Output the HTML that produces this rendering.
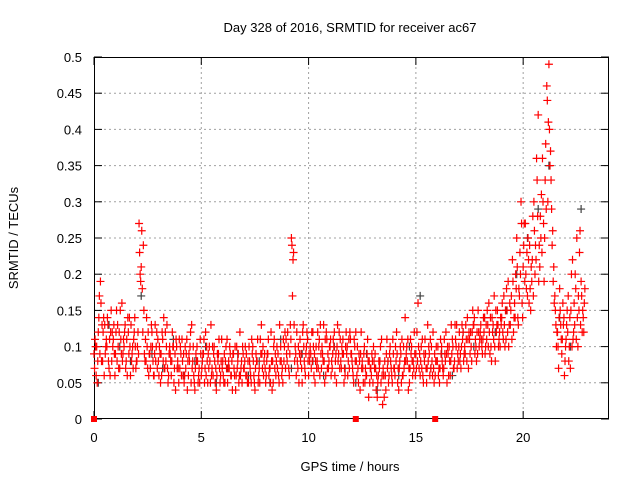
<!DOCTYPE html>
<html><head><meta charset="utf-8"><style>
html,body{margin:0;padding:0;background:#fff;}
svg{display:block;font-family:"Liberation Sans",sans-serif;}
</style></head><body>
<svg id="chart" width="640" height="480" viewBox="0 0 640 480">
<rect width="640" height="480" fill="#fff"/>
<text x="350" y="32" text-anchor="middle" font-size="13">Day 328 of 2016, SRMTID for receiver ac67</text>
<g id="grid"></g>
<g id="axes"></g>
<g id="gray"></g>
<g id="red"></g>
<text x="350" y="471" text-anchor="middle" font-size="13">GPS time / hours</text>
<text transform="translate(18,238) rotate(-90)" text-anchor="middle" font-size="13">SRMTID / TECUs</text>
</svg>
<script>
const xTicks=[0,5,10,15,20];
const yTicks=[0,0.05,0.1,0.15,0.2,0.25,0.3,0.35,0.4,0.45,0.5];
const yTickLabels=["0","0.05","0.1","0.15","0.2","0.25","0.3","0.35","0.4","0.45","0.5"];
const redStart=0, redStep=0.1;
const redA=[0.09,0.06,0.12,0.19,0.08,0.13,0.10,0.07,0.15,0.11,
0.09,0.13,0.07,0.16,0.10,0.08,0.12,0.06,0.10,0.14,
0.08,0.27,0.21,0.24,0.11,0.07,0.09,0.12,0.06,0.10,
0.08,0.05,0.11,0.07,0.13,0.09,0.06,0.10,0.04,0.08,
0.07,0.11,0.05,0.09,0.06,0.12,0.08,0.04,0.10,0.07,
0.06,0.09,0.12,0.05,0.08,0.07,0.10,0.04,0.09,0.06,
0.08,0.05,0.11,0.07,0.06,0.09,0.04,0.08,0.12,0.05,
0.07,0.09,0.05,0.06,0.10,0.04,0.08,0.07,0.13,0.06,
0.05,0.09,0.07,0.04,0.11,0.08,0.06,0.10,0.05,0.12,
0.08,0.06,0.25,0.23,0.09,0.07,0.11,0.05,0.08,0.10,
0.06,0.09,0.12,0.05,0.08,0.11,0.07,0.13,0.06,0.09,
0.10,0.07,0.12,0.05,0.09,0.08,0.11,0.06,0.10,0.07,
0.09,0.05,0.12,0.07,0.04,0.08,0.10,0.06,0.03,0.07,
0.05,0.09,0.03,0.07,0.11,0.06,0.04,0.08,0.10,0.05,
0.07,0.12,0.04,0.09,0.06,0.14,0.08,0.05,0.10,0.07,
0.09,0.16,0.06,0.11,0.08,0.05,0.10,0.07,0.12,0.06,
0.08,0.05,0.10,0.07,0.12,0.09,0.06,0.11,0.08,0.13,
0.10,0.07,0.12,0.09,0.14,0.11,0.08,0.13,0.10,0.15,
0.12,0.09,0.14,0.11,0.16,0.10,0.13,0.08,0.15,0.12,
0.14,0.17,0.11,0.19,0.13,0.22,0.16,0.25,0.18,0.30,
0.21,0.27,0.17,0.24,0.19,0.30,0.22,0.42,0.28,0.36,
0.25,0.46,0.49,0.33,0.19,0.15,0.12,0.18,0.09,0.14,
0.11,0.17,0.07,0.22,0.13,0.25,0.15,0.19,0.14];
const redB=[0.11,0.05,0.17,0.08,0.14,0.10,0.13,0.06,0.12,0.09,
0.15,0.07,0.11,0.09,0.13,0.06,0.14,0.08,0.11,0.07,
0.12,0.20,0.18,0.09,0.14,0.06,0.10,0.08,0.13,0.07,
0.10,0.06,0.14,0.08,0.05,0.09,0.12,0.07,0.10,0.05,
0.09,0.06,0.10,0.04,0.08,0.13,0.06,0.09,0.05,0.11,
0.08,0.05,0.10,0.07,0.13,0.06,0.05,0.09,0.07,0.11,
0.05,0.10,0.07,0.09,0.04,0.06,0.10,0.05,0.07,0.09,
0.10,0.05,0.08,0.11,0.06,0.09,0.05,0.11,0.07,0.09,
0.08,0.06,0.12,0.05,0.09,0.07,0.13,0.06,0.08,0.11,
0.10,0.13,0.17,0.08,0.12,0.05,0.09,0.13,0.06,0.11,
0.08,0.12,0.06,0.10,0.07,0.13,0.09,0.05,0.11,0.08,
0.06,0.11,0.08,0.13,0.07,0.10,0.05,0.12,0.08,0.11,
0.07,0.10,0.06,0.09,0.12,0.05,0.07,0.11,0.05,0.09,
0.08,0.04,0.06,0.10,0.02,0.08,0.11,0.06,0.07,0.09,
0.10,0.05,0.08,0.11,0.07,0.09,0.04,0.11,0.06,0.09,
0.12,0.07,0.10,0.05,0.09,0.13,0.06,0.08,0.05,0.10,
0.06,0.11,0.07,0.09,0.05,0.10,0.13,0.07,0.11,0.09,
0.08,0.13,0.09,0.11,0.07,0.12,0.15,0.09,0.12,0.10,
0.11,0.14,0.10,0.13,0.09,0.14,0.17,0.12,0.10,0.14,
0.12,0.10,0.15,0.13,0.17,0.12,0.20,0.14,0.23,0.16,
0.27,0.18,0.22,0.15,0.28,0.20,0.33,0.24,0.31,0.27,
0.38,0.30,0.35,0.24,0.16,0.10,0.07,0.13,0.16,0.08,
0.15,0.10,0.20,0.12,0.18,0.10,0.26,0.12,0.16];
const redC=[0.07,0.10,0.14,0.16,0.12,0.09,0.14,0.11,0.08,0.13,
0.12,0.10,0.15,0.08,0.12,0.11,0.09,0.13,0.07,0.10,
0.10,0.23,0.26,0.15,0.08,0.12,0.07,0.10,0.09,0.12,
0.06,0.09,0.08,0.12,0.07,0.10,0.08,0.05,0.11,0.07,
0.10,0.08,0.06,0.11,0.09,0.05,0.10,0.07,0.08,0.05,
0.07,0.11,0.06,0.09,0.05,0.10,0.08,0.06,0.11,0.08,
0.06,0.08,0.05,0.10,0.08,0.07,0.06,0.09,0.06,0.10,
0.08,0.06,0.10,0.05,0.08,0.07,0.11,0.05,0.09,0.08,
0.06,0.11,0.05,0.08,0.07,0.10,0.05,0.08,0.11,0.07,
0.12,0.09,0.24,0.13,0.06,0.10,0.08,0.12,0.07,0.12,
0.09,0.07,0.10,0.08,0.12,0.06,0.10,0.08,0.12,0.07,
0.11,0.09,0.06,0.10,0.12,0.07,0.09,0.10,0.06,0.12,
0.08,0.11,0.08,0.05,0.09,0.07,0.05,0.09,0.08,0.06,
0.10,0.07,0.05,0.08,0.06,0.03,0.09,0.05,0.08,0.11,
0.06,0.09,0.07,0.05,0.10,0.08,0.11,0.07,0.08,0.12,
0.07,0.10,0.08,0.06,0.11,0.07,0.09,0.10,0.07,0.08,
0.10,0.07,0.08,0.11,0.09,0.06,0.08,0.10,0.13,0.07,
0.12,0.10,0.08,0.13,0.11,0.09,0.12,0.14,0.08,0.12,
0.13,0.11,0.09,0.15,0.12,0.08,0.11,0.15,0.13,0.10,
0.16,0.13,0.18,0.10,0.15,0.19,0.14,0.21,0.17,0.27,
0.24,0.20,0.25,0.18,0.22,0.26,0.36,0.19,0.25,0.30,
0.33,0.44,0.40,0.29,0.21,0.13,0.10,0.15,0.11,0.06,
0.13,0.08,0.15,0.11,0.20,0.14,0.23,0.17,0.12];
const redD=[0.10,0.08,0.09,0.13,0.06,0.11,0.08,0.12,0.10,0.06,
0.08,0.12,0.09,0.11,0.07,0.14,0.10,0.09,0.12,0.08,
0.09,0.19,0.12,0.08,0.10,0.09,0.13,0.06,0.08,0.11,
0.09,0.12,0.07,0.10,0.06,0.08,0.10,0.09,0.07,0.11,
0.06,0.09,0.07,0.08,0.10,0.07,0.05,0.08,0.06,0.09,
0.09,0.07,0.08,0.10,0.06,0.09,0.07,0.08,0.05,0.07,
0.09,0.07,0.08,0.06,0.09,0.10,0.07,0.06,0.08,0.07,
0.06,0.08,0.07,0.09,0.05,0.08,0.06,0.09,0.10,0.07,
0.09,0.07,0.08,0.10,0.06,0.09,0.08,0.07,0.10,0.09,
0.07,0.11,0.22,0.10,0.08,0.09,0.07,0.10,0.09,0.08,
0.10,0.08,0.09,0.07,0.10,0.09,0.08,0.11,0.07,0.10,
0.08,0.10,0.09,0.08,0.11,0.09,0.07,0.09,0.11,0.09,
0.06,0.08,0.10,0.08,0.07,0.09,0.06,0.08,0.07,0.08,
0.07,0.06,0.08,0.05,0.07,0.06,0.07,0.09,0.06,0.07,
0.08,0.07,0.10,0.06,0.08,0.10,0.07,0.09,0.08,0.06,
0.08,0.09,0.07,0.09,0.07,0.08,0.11,0.06,0.09,0.08,
0.07,0.09,0.06,0.08,0.10,0.08,0.09,0.07,0.10,0.08,
0.09,0.11,0.10,0.08,0.12,0.10,0.13,0.11,0.09,0.11,
0.10,0.12,0.13,0.10,0.14,0.12,0.10,0.13,0.11,0.13,
0.11,0.15,0.12,0.16,0.11,0.14,0.18,0.13,0.20,0.14,
0.19,0.23,0.16,0.21,0.17,0.24,0.28,0.21,0.23,0.19,
0.29,0.41,0.37,0.26,0.17,0.12,0.14,0.11,0.13,0.10,
0.12,0.14,0.10,0.16,0.11,0.17,0.13,0.15,0.18];
const grayStart=0, grayStep=0.5;
const grayVals=[0.05,0.13,0.10,0.08,0.17,0.09,0.07,0.11,0.06,0.08,
0.10,0.05,0.07,0.09,0.06,0.08,0.05,0.11,0.07,0.09,
0.08,0.06,0.10,0.07,0.05,0.09,0.04,0.08,0.06,0.10,
0.17,0.07,0.09,0.06,0.12,0.10,0.14,0.12,0.15,0.20,
0.25,0.29,0.35,0.14,0.10,0.29];
const zeroHours=[0,12.2,15.9];

const NS="http://www.w3.org/2000/svg";
const L=94,R=609,T=57,B=419,xMax=24,yMax=0.5;
const xs=h=>L+(R-L)*h/xMax;
const ys=v=>B-(B-T)*v/yMax;
function mk(tag,attrs,parent){const e=document.createElementNS(NS,tag);for(const k in attrs)e.setAttribute(k,attrs[k]);parent.appendChild(e);return e;}
const grid=document.getElementById('grid'),axes=document.getElementById('axes');
yTicks.forEach((v,i)=>{
  const y=ys(v);
  if(i>0&&i<yTicks.length-1){const g=mk('line',{x1:L,x2:R,y1:y,y2:y,stroke:'#a0a0a0','stroke-width':1,'stroke-dasharray':'2,3'},grid);
  
  }
  mk('line',{x1:L,x2:L+8,y1:y,y2:y,stroke:'#000'},axes);
  mk('line',{x1:R-8,x2:R,y1:y,y2:y,stroke:'#000'},axes);
  const t=mk('text',{x:L-12,y:y+5,'text-anchor':'end','font-size':13},axes);
  t.textContent=yTickLabels[i];
  
  
});
xTicks.forEach(h=>{
  const x=xs(h);
  if(h>0){const g=mk('line',{x1:x,x2:x,y1:T,y2:B,stroke:'#a0a0a0','stroke-width':1,'stroke-dasharray':'2,3'},grid);
  
  }
  mk('line',{x1:x,x2:x,y1:B,y2:B-8,stroke:'#000'},axes);
  mk('line',{x1:x,x2:x,y1:T,y2:T+8,stroke:'#000'},axes);
  const t=mk('text',{x:x,y:B+23,'text-anchor':'middle','font-size':13},axes);
  t.textContent=String(h);
  
  
});
const fr=mk('rect',{x:L+0.5,y:T+0.5,width:R-L-1,height:B-T-1,fill:'none',stroke:'#000'},axes);


function plus(g,h,v,col){
  const x=xs(h),y=ys(v);
  const p=mk('path',{d:`M${x-4},${y}H${x+4}M${x},${y-4}V${y+4}`,stroke:col,'stroke-width':1.2,fill:'none'},g);
  
  
}
const gG=document.getElementById('gray'),gR=document.getElementById('red');
grayVals.forEach((v,i)=>plus(gG,grayStart+i*grayStep+0.2,v,'#404040'));
redA.forEach((v,i)=>plus(gR,redStart+i*redStep,v,'#ff0000'));
redB.forEach((v,i)=>plus(gR,redStart+i*redStep+0.05,v,'#ff0000'));
redC.forEach((v,i)=>plus(gR,redStart+i*redStep+0.025,v,'#ff0000'));
redD.forEach((v,i)=>plus(gR,redStart+i*redStep+0.075,v,'#ff0000'));
zeroHours.forEach(h=>{
  const r=mk('rect',{x:xs(h)-3,y:B-3,width:6,height:6,fill:'#ff0000'},gR);
  
  
});
</script>
</body></html>
